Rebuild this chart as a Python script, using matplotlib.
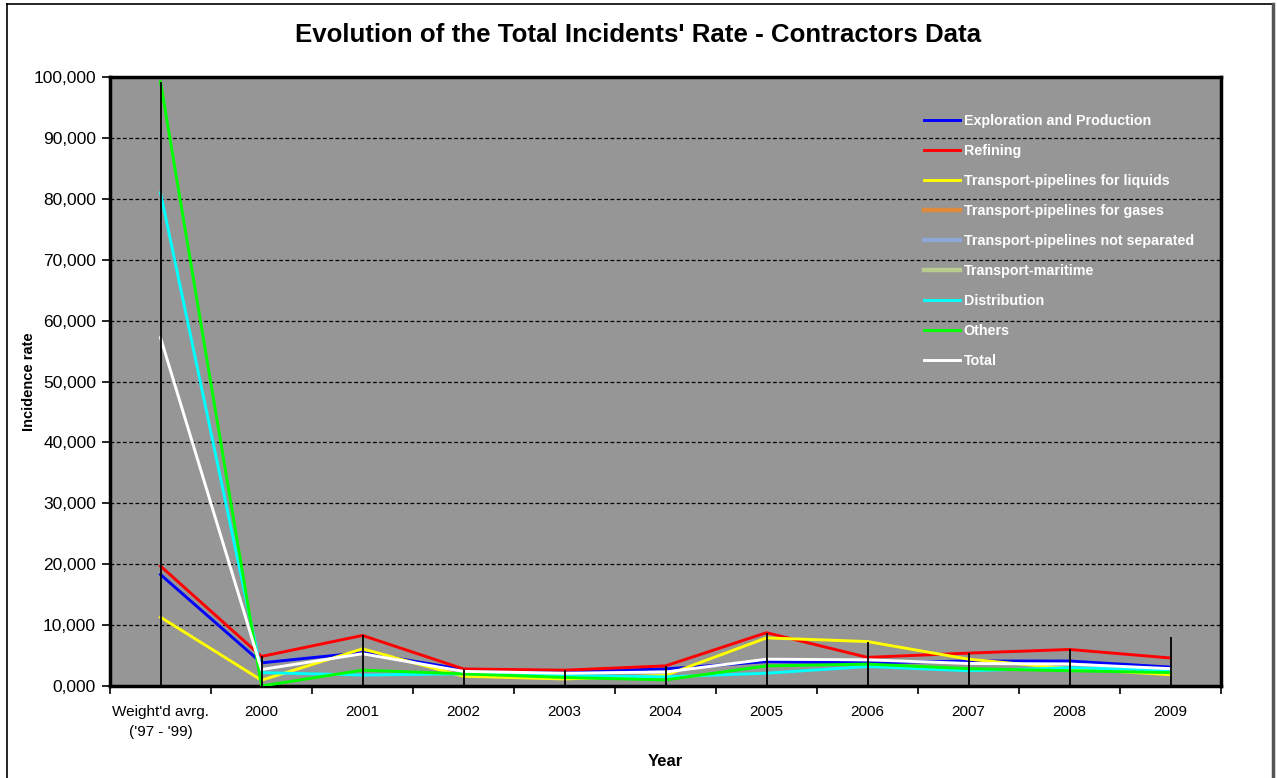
import numpy as np
import matplotlib
matplotlib.use("Agg")
import matplotlib.pyplot as plt
from matplotlib.ticker import FuncFormatter, FixedLocator

# categorias del eje x
categorias = ["Weight'd avrg.\n('97 - '99)", "2000", "2001", "2002", "2003", "2004",
              "2005", "2006", "2007", "2008", "2009"]

# tasas de incidentes por sector
expl_prod  = [18.3, 3.8, 5.5, 2.7, 2.4, 2.8, 4.0, 3.8, 4.1, 4.1, 3.1]
refino     = [19.7, 4.85, 8.3, 2.8, 2.6, 3.3, 8.75, 4.7, 5.4, 6.0, 4.6]
liquidos   = [11.3, 0.95, 6.1, 1.6, 1.15, 1.75, 7.9, 7.3, 4.4, 2.85, 1.85]
gases      = [np.nan] * 11
no_separ   = [np.nan] * 11
maritimo   = [np.nan] * 11
distrib    = [81.0, 2.2, 1.8, 2.0, 1.7, 1.5, 2.1, 3.2, 2.5, 3.0, 2.6]
otros      = [99.2, 0.0, 2.6, 2.0, 1.4, 1.0, 3.3, 3.6, 2.85, 2.5, 2.2]
total      = [57.2, 2.7, 5.3, 2.4, 2.1, 2.3, 4.4, 4.3, 3.7, 3.6, 2.85]

# lineas max-min por categoria
hilo_bajo = [0, 0, 0, 0, 0, 0, 0, 0, 0, 0, 0]
hilo_alto = [99.2, 4.85, 8.3, 2.8, 2.6, 3.3, 8.75, 7.3, 5.4, 6.0, 8.1]

nombres = ["Exploration and Production", "Refining", "Transport-pipelines for liquids",
           "Transport-pipelines for gases", "Transport-pipelines not separated",
           "Transport-maritime", "Distribution", "Others", "Total"]
series = [expl_prod, refino, liquidos, gases, no_separ, maritimo, distrib, otros, total]
colores = ["#0000FF", "#FF0000", "#FFFF00", "#E08A3C", "#8FA8D8", "#B8CC90",
           "#00FFFF", "#00FF00", "#FFFFFF"]
anchos = [2.1, 2.1, 2.1, 3.2, 3.2, 3.2, 2.1, 2.1, 2.1]

plt.rcParams["font.family"] = ["Liberation Sans", "DejaVu Sans"]

fig = plt.figure(figsize=(12.77, 7.78), dpi=100)
ax = fig.add_axes([110 / 1277, 1 - 686 / 778, 1111 / 1277, 609 / 778])
ax.set_facecolor("#969696")

x = np.arange(len(categorias))
for s, nom, c, lw in zip(series, nombres, colores, anchos):
    ax.plot(x, s, color=c, lw=lw, label=nom, zorder=3, solid_joinstyle="miter")

ax.vlines(x, hilo_bajo, hilo_alto, color="black", lw=1.3, zorder=4)

ax.set_xlim(-0.5, len(categorias) - 0.5)
ax.set_ylim(0, 100)
ax.set_yticks(np.arange(0, 101, 10))
ax.yaxis.set_major_formatter(FuncFormatter(lambda v, p: f"{v:,.3f}".replace(".", ",")))
ax.yaxis.grid(True, color="black", ls=(0, (3, 2)), lw=0.9)
ax.set_axisbelow(True)

ax.set_xticks(x)
ax.set_xticklabels(categorias, fontsize=11, linespacing=1.5, va="top")
ax.xaxis.set_minor_locator(FixedLocator(np.arange(-0.5, len(categorias), 1)))
ax.tick_params(axis="x", which="major", length=0, pad=14)
ax.tick_params(axis="x", which="minor", length=6, width=1.2, direction="out")
ax.tick_params(axis="y", length=6, width=1.2, direction="out", labelsize=12.5, pad=4)

for sp in ax.spines.values():
    sp.set_linewidth(2.5)
    sp.set_color("black")

ax.set_ylabel("Incidence rate", fontsize=10.5, fontweight="bold")
ax.yaxis.set_label_coords(-0.0666, 0.5)
ax.set_xlabel("Year", fontsize=12, fontweight="bold")
ax.xaxis.set_label_coords(0.5, -0.1117)

fig.suptitle("Evolution of the Total Incidents' Rate - Contractors Data",
             fontsize=18.6, fontweight="bold", y=0.970)

leg = ax.legend(loc="upper left", bbox_to_anchor=(0.7215, 0.961), frameon=False,
                handlelength=2.5, handletextpad=0.25, labelspacing=1.12,
                prop={"weight": "bold", "size": 10.3})
for t in leg.get_texts():
    t.set_color("white")

# marco de la figura
fig.add_artist(plt.Line2D([7 / 1277, 7 / 1277], [0, 1 - 4 / 778], color="black", lw=1.2,
                          transform=fig.transFigure))
fig.add_artist(plt.Line2D([7 / 1277, 1273 / 1277], [1 - 4 / 778, 1 - 4 / 778], color="black",
                          lw=1.2, transform=fig.transFigure))
fig.add_artist(plt.Line2D([1273 / 1277, 1273 / 1277], [0, 1 - 4 / 778], color="#555555", lw=2.5,
                          transform=fig.transFigure))

fig.savefig("out.png", dpi=100)
